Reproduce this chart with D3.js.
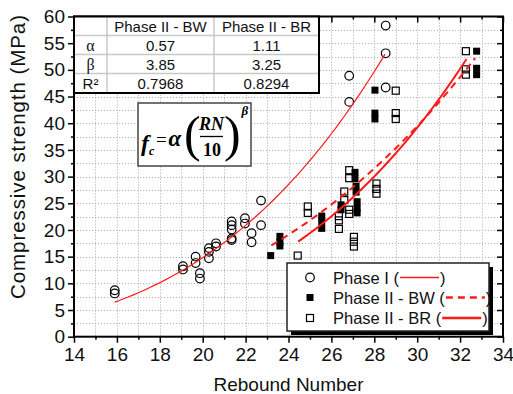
<!DOCTYPE html>
<html>
<head>
<meta charset="utf-8">
<script src="https://cdn.jsdelivr.net/npm/d3@7"></script>
<style>
  body { margin: 0; background: #fff; }
  svg { display: block; font-family: "Liberation Sans", Arial, sans-serif; }
</style>
</head>
<body>
<svg width="513" height="394"></svg>
<script>
// ---- data ----
const phaseI = [
  [15.9, 8.7], [15.9, 8.1], [19.08, 13.2], [19.08, 12.6], [19.67, 15.0], [19.67, 13.8],
  [19.87, 11.9], [19.87, 10.9], [20.29, 16.6], [20.29, 15.9], [20.29, 14.7],
  [20.62, 17.5], [20.62, 16.9], [21.35, 21.6], [21.35, 20.9], [21.35, 20.1],
  [21.35, 18.4], [21.35, 18.1], [21.97, 22.2], [21.97, 21.2], [22.28, 19.4],
  [22.28, 17.7], [22.72, 25.5], [22.72, 20.9], [26.83, 48.9], [26.83, 44.0],
  [28.53, 58.3], [28.53, 53.1], [28.53, 46.7]
];
const phaseBW = [
  [23.17, 15.2], [23.6, 18.8], [23.6, 17.8], [23.6, 17.0], [25.55, 22.6], [25.55, 21.6],
  [25.55, 20.3], [26.45, 24.7], [26.45, 23.8], [27.1, 30.8], [27.1, 29.6], [27.15, 28.2],
  [27.15, 27.1], [27.2, 25.3], [27.2, 24.1], [27.2, 23.2], [28.03, 46.2], [28.03, 41.9],
  [28.03, 40.8], [32.77, 53.5], [32.77, 50.3], [32.77, 49.1]
];
const phaseBR = [
  [24.43, 15.2], [24.9, 24.4], [24.9, 23.2], [26.35, 22.6], [26.35, 21.8], [26.35, 20.2],
  [26.6, 27.2], [26.6, 25.6], [26.83, 31.2], [26.83, 29.7], [26.83, 23.8], [26.83, 23.0],
  [27.05, 18.7], [27.05, 17.8], [27.05, 16.9], [28.1, 28.7], [28.1, 27.7], [28.1, 26.8],
  [29.0, 46.1], [29.0, 41.9], [29.0, 40.8], [32.27, 53.5], [32.27, 50.1], [32.27, 49.1]
];

// fitted curves f = alpha * (RN/10)^beta, as drawn
const fitAlpha = [1.22, 1.11, 0.57];
const fitBeta  = [3.6, 3.25, 3.85];
const fitFrom  = [15.9, 23.2, 24.45];
const fitTo    = [28.5, 32.7, 32.3];

const tableHeader = ["", "Phase II - BW", "Phase II - BR"];
const tableRows = [
  ["\u03b1", "0.57", "1.11"],
  ["\u03b2", "3.85", "3.25"],
  ["R\u00b2", "0.7968", "0.8294"]
];
const legendLabels = ["Phase I (", "Phase II - BW (", "Phase II - BR ("];

const xTicks = d3.range(14, 35, 2);
const yTicks = d3.range(0, 61, 5);

// ---- layout ----
const svg = d3.select("svg"),
      width = +svg.attr("width"),
      height = +svg.attr("height");
const pL = 74, pR = 503, pT = 16.5, pB = 336.7;
const red = "#ff1a1a";

const x = d3.scaleLinear().domain([14, 34]).range([pL, pR]);
const y = d3.scaleLinear().domain([0, 60]).range([pB, pT]);

// grid
const grid = svg.append("g").attr("stroke", "#b4b4b4").attr("stroke-width", 1)
  .attr("stroke-dasharray", "1.2,1.8");
grid.selectAll("line.v").data(d3.range(15, 34)).enter().append("line")
  .attr("x1", d => Math.round(x(d)) + 0.5).attr("x2", d => Math.round(x(d)) + 0.5)
  .attr("y1", pT).attr("y2", pB);
grid.selectAll("line.h").data(d3.range(2.5, 60, 2.5)).enter().append("line")
  .attr("y1", d => Math.round(y(d)) + 0.5).attr("y2", d => Math.round(y(d)) + 0.5)
  .attr("x1", pL).attr("x2", pR);

// points
const sym = svg.append("g");
sym.selectAll("circle").data(phaseI).enter().append("circle")
  .attr("cx", d => x(d[0])).attr("cy", d => y(d[1])).attr("r", 4.3)
  .attr("fill", "none").attr("stroke", "#000").attr("stroke-width", 1.2);
const sq = 7;
sym.selectAll("rect.bw").data(phaseBW).enter().append("rect")
  .attr("x", d => x(d[0]) - sq / 2).attr("y", d => y(d[1]) - sq / 2)
  .attr("width", sq).attr("height", sq).attr("fill", "#000");
sym.selectAll("rect.br").data(phaseBR).enter().append("rect")
  .attr("x", d => x(d[0]) - sq / 2).attr("y", d => y(d[1]) - sq / 2)
  .attr("width", sq).attr("height", sq)
  .attr("fill", "none").attr("stroke", "#000").attr("stroke-width", 1.2);

// fitted curves
const curve = d3.line().x(d => x(d[0])).y(d => y(d[1]));
const curveStyle = [
  { w: 1.2, dash: null },
  { w: 2, dash: "7,5" },
  { w: 2, dash: null }
];
fitAlpha.forEach((a, i) => {
  const pts = d3.range(fitFrom[i], fitTo[i] + 1e-9, (fitTo[i] - fitFrom[i]) / 60)
    .map(v => [v, a * Math.pow(v / 10, fitBeta[i])]);
  svg.append("path").attr("d", curve(pts)).attr("fill", "none")
    .attr("stroke", red).attr("stroke-width", curveStyle[i].w)
    .attr("stroke-dasharray", curveStyle[i].dash);
});

// axes
const fs = 19;
const ax = svg.append("g");
ax.append("g").attr("transform", `translate(0,${pB})`)
  .call(d3.axisBottom(x).tickValues(xTicks).tickSize(6).tickPadding(5))
  .call(g => g.selectAll("text").attr("font-size", fs).attr("fill", "#111").attr("font-family", "Liberation Sans, Arial"));
ax.append("g").attr("transform", `translate(${pL},0)`)
  .call(d3.axisLeft(y).tickValues(yTicks).tickSize(6).tickPadding(3))
  .call(g => g.selectAll("text").attr("font-size", fs).attr("fill", "#111").attr("font-family", "Liberation Sans, Arial"));
ax.append("g").attr("transform", `translate(0,${pT})`)
  .call(d3.axisBottom(x).tickValues(xTicks).tickSize(6).tickFormat(""));
ax.append("g").attr("transform", `translate(${pR},0)`)
  .call(d3.axisLeft(y).tickValues(yTicks).tickSize(6).tickFormat(""));
// minor ticks
ax.append("g").attr("transform", `translate(0,${pB})`)
  .call(d3.axisBottom(x).tickValues(d3.range(15, 34, 2)).tickSize(3).tickFormat(""));
ax.append("g").attr("transform", `translate(${pL},0)`)
  .call(d3.axisLeft(y).tickValues(d3.range(2.5, 60, 5)).tickSize(3).tickFormat(""));
ax.append("g").attr("transform", `translate(0,${pT})`)
  .call(d3.axisBottom(x).tickValues(d3.range(15, 34, 2)).tickSize(3).tickFormat(""));
ax.append("g").attr("transform", `translate(${pR},0)`)
  .call(d3.axisLeft(y).tickValues(d3.range(2.5, 60, 5)).tickSize(3).tickFormat(""));
ax.selectAll(".domain").remove();
ax.selectAll("line").attr("stroke", "#000").attr("stroke-width", 1.5);
svg.append("rect").attr("x", pL).attr("y", pT).attr("width", pR - pL)
  .attr("height", pB - pT).attr("fill", "none").attr("stroke", "#000").attr("stroke-width", 2);

// axis titles
svg.append("text").attr("x", (pL + pR) / 2).attr("y", 391)
  .attr("text-anchor", "middle").attr("font-size", fs).attr("fill", "#111").text("Rebound Number");
svg.append("text").attr("transform", "translate(25,157) rotate(-90)")
  .attr("text-anchor", "middle").attr("font-size", 20.5).attr("fill", "#111")
  .attr("textLength", 284).attr("lengthAdjust", "spacing")
  .text("Compressive strength (MPa)");

// table
const colX = [pL, 107, 214, 319];
const rowY = [pT, 35.5, 54.5, 73.5, 93];
const tbl = svg.append("g");
tbl.append("rect").attr("x", pL).attr("y", pT).attr("width", colX[3] - pL)
  .attr("height", rowY[4] - pT).attr("fill", "#fff");
[1, 2].forEach(i => tbl.append("line").attr("x1", colX[i]).attr("x2", colX[i])
  .attr("y1", pT).attr("y2", rowY[4]).attr("stroke", "#c8c8c8").attr("stroke-width", 1.5));
[1, 2, 3].forEach(i => tbl.append("line").attr("x1", pL).attr("x2", colX[3])
  .attr("y1", rowY[i]).attr("y2", rowY[i]).attr("stroke", "#c8c8c8").attr("stroke-width", 1.5));
tbl.append("rect").attr("x", pL).attr("y", pT).attr("width", colX[3] - pL)
  .attr("height", rowY[4] - pT).attr("fill", "none").attr("stroke", "#000").attr("stroke-width", 2);
[tableHeader].concat(tableRows).forEach((row, r) => {
  row.forEach((cell, c) => {
    const serif = c === 0 && r < 3 && r > 0;
    tbl.append("text")
      .attr("x", (colX[c] + colX[c + 1]) / 2)
      .attr("y", (rowY[r] + rowY[r + 1]) / 2 + 5.5)
      .attr("text-anchor", "middle")
      .attr("font-size", serif ? 16 : 15)
      .attr("font-family", serif ? "Liberation Serif, Times New Roman, serif" : "Liberation Sans, Arial")
      .attr("fill", "#111")
      .text(cell);
  });
});

// formula box
const fb = svg.append("g").attr("font-family", "Liberation Serif, Times New Roman, serif")
  .attr("font-weight", "bold").attr("fill", "#000");
fb.append("rect").attr("x", 138).attr("y", 103).attr("width", 113).attr("height", 63)
  .attr("fill", "#fff").attr("stroke", "#444").attr("stroke-width", 1.5);
fb.append("text").attr("x", 141).attr("y", 151).attr("font-size", 24).attr("font-style", "italic").text("f");
fb.append("text").attr("x", 149).attr("y", 155).attr("font-size", 12).attr("font-style", "italic").text("c");
fb.append("text").attr("x", 156).attr("y", 146).attr("font-size", 19).attr("font-weight", "normal").text("=");
fb.append("text").attr("x", 168.5).attr("y", 146).attr("font-size", 23).attr("font-style", "italic").text("\u03b1");
fb.append("text").attr("x", 184).attr("y", 151).attr("font-size", 50).attr("font-weight", "normal").text("(");
fb.append("text").attr("x", 211.5).attr("y", 130).attr("text-anchor", "middle").attr("font-size", 18).attr("font-style", "italic").text("RN");
fb.append("line").attr("x1", 200).attr("x2", 223).attr("y1", 136.5).attr("y2", 136.5).attr("stroke", "#000").attr("stroke-width", 1.3);
fb.append("text").attr("x", 212).attr("y", 156).attr("text-anchor", "middle").attr("font-size", 18).text("10");
fb.append("text").attr("x", 224).attr("y", 151).attr("font-size", 50).attr("font-weight", "normal").text(")");
fb.append("text").attr("x", 241.5).attr("y", 115).attr("font-size", 13).attr("font-style", "italic").text("\u03b2");

// legend
const lg = svg.append("g");
lg.append("rect").attr("x", 291).attr("y", 267).attr("width", 202).attr("height", 68).attr("fill", "#000");
lg.append("rect").attr("x", 287).attr("y", 263).attr("width", 202).attr("height", 68)
  .attr("fill", "#fff").attr("stroke", "#222").attr("stroke-width", 1.5);
const legRowY = [277.5, 297.5, 318];
lg.append("circle").attr("cx", 310).attr("cy", legRowY[0]).attr("r", 4.3)
  .attr("fill", "none").attr("stroke", "#000").attr("stroke-width", 1.2);
lg.append("rect").attr("x", 310 - sq / 2).attr("y", legRowY[1] - sq / 2).attr("width", sq).attr("height", sq).attr("fill", "#000");
lg.append("rect").attr("x", 310 - sq / 2).attr("y", legRowY[2] - sq / 2).attr("width", sq).attr("height", sq)
  .attr("fill", "none").attr("stroke", "#000").attr("stroke-width", 1.2);
legendLabels.forEach((lab, i) => {
  const t = lg.append("text").attr("x", 333).attr("y", legRowY[i] + 6).attr("font-size", 16.5)
    .attr("fill", "#111").text(lab);
  const end = 333 + t.node().getComputedTextLength();
  lg.append("line").attr("x1", end + 1).attr("x2", end + 40).attr("y1", legRowY[i]).attr("y2", legRowY[i])
    .attr("stroke", red).attr("stroke-width", curveStyle[i].w + 0.3)
    .attr("stroke-dasharray", curveStyle[i].dash);
  lg.append("text").attr("x", end + 41).attr("y", legRowY[i] + 6).attr("font-size", 16.5)
    .attr("fill", "#111").text(")");
});
</script>
</body>
</html>
